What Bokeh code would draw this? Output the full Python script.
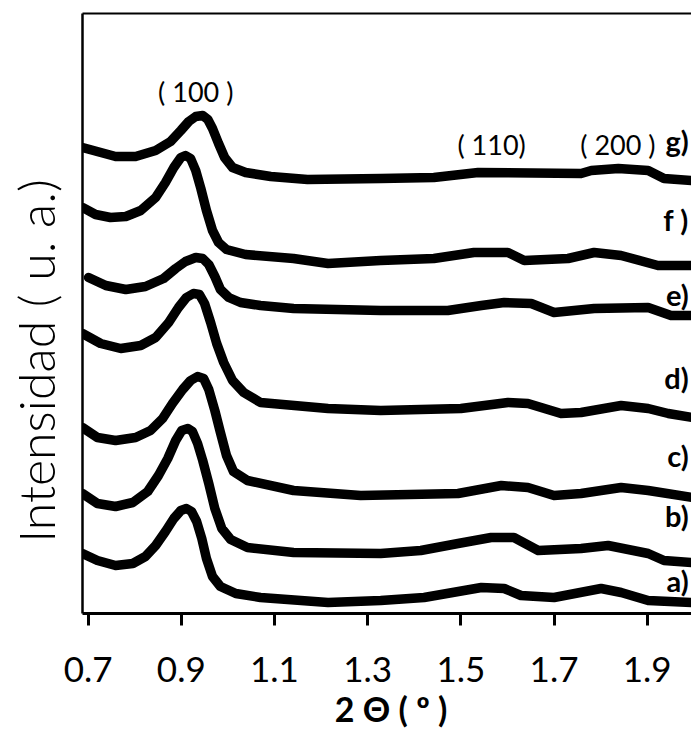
from bokeh.plotting import figure
from bokeh.models import LinearAxis, FixedTicker, Label
from bokeh.embed import file_html
from bokeh.resources import INLINE

# ---- data (intensity in arbitrary units) ----
x_ticks = [0.7, 0.9, 1.1, 1.3, 1.5, 1.7, 1.9]

g_x = [0.688, 0.759, 0.802, 0.845, 0.877, 0.899, 0.916, 0.931, 0.946, 0.957, 0.967, 0.980, 0.993, 1.010, 1.038, 1.092, 1.171, 1.328, 1.442, 1.537, 1.758, 1.780, 1.838, 1.902, 1.936, 1.997]
g_y = [466, 457, 457, 463, 472, 483, 492, 497, 498, 494, 485, 470, 456, 446, 441, 437, 434, 435, 436, 441, 440, 443, 445, 443, 435, 433]

f_x = [0.688, 0.716, 0.748, 0.781, 0.813, 0.845, 0.866, 0.884, 0.899, 0.909, 0.920, 0.931, 0.942, 0.954, 0.967, 0.980, 0.997, 1.038, 1.141, 1.215, 1.328, 1.442, 1.528, 1.601, 1.636, 1.730, 1.786, 1.844, 1.923, 1.997]
f_y = [406, 399, 396, 397, 403, 416, 431, 446, 456, 458, 455, 443, 425, 403, 383, 371, 364, 359, 355, 350, 353, 355, 361, 361, 353, 355, 361, 358, 348, 348]

e_x = [0.701, 0.738, 0.781, 0.823, 0.862, 0.888, 0.909, 0.931, 0.946, 0.959, 0.972, 0.984, 1.002, 1.027, 1.070, 1.141, 1.328, 1.472, 1.544, 1.593, 1.651, 1.700, 1.786, 1.902, 1.951, 1.997]
e_y = [336, 328, 324, 327, 335, 345, 352, 356, 355, 349, 337, 324, 316, 311, 308, 305, 303, 303, 308, 311, 310, 301, 305, 306, 298, 298]

d_x = [0.688, 0.727, 0.770, 0.813, 0.845, 0.873, 0.894, 0.911, 0.926, 0.939, 0.950, 0.963, 0.976, 0.991, 1.010, 1.034, 1.070, 1.215, 1.328, 1.500, 1.601, 1.644, 1.715, 1.758, 1.844, 1.902, 1.945, 1.997]
d_y = [280, 270, 265, 268, 276, 291, 306, 316, 320, 319, 310, 291, 270, 251, 233, 221, 211, 205, 203, 205, 211, 210, 200, 201, 208, 205, 200, 196]

c_x = [0.688, 0.720, 0.759, 0.802, 0.834, 0.860, 0.881, 0.903, 0.920, 0.935, 0.948, 0.959, 0.972, 0.984, 0.997, 1.012, 1.042, 1.141, 1.285, 1.494, 1.587, 1.644, 1.700, 1.758, 1.844, 1.902, 1.997]
c_y = [186, 176, 173, 176, 183, 195, 210, 224, 233, 237, 235, 224, 203, 181, 158, 142, 133, 123, 118, 120, 128, 126, 118, 120, 126, 123, 116]

b_x = [0.688, 0.720, 0.759, 0.796, 0.828, 0.851, 0.871, 0.888, 0.901, 0.914, 0.924, 0.935, 0.946, 0.959, 0.972, 0.987, 1.006, 1.042, 1.141, 1.328, 1.414, 1.494, 1.565, 1.614, 1.666, 1.758, 1.816, 1.902, 1.936, 1.997]
b_y = [120, 110, 107, 111, 122, 138, 155, 173, 183, 185, 182, 170, 153, 130, 105, 85, 74, 66, 61, 60, 63, 70, 76, 76, 63, 65, 68, 60, 53, 51]

a_x = [0.688, 0.720, 0.759, 0.796, 0.823, 0.845, 0.866, 0.884, 0.899, 0.911, 0.922, 0.933, 0.944, 0.954, 0.967, 0.984, 1.017, 1.070, 1.215, 1.328, 1.421, 1.544, 1.593, 1.629, 1.700, 1.801, 1.844, 1.902, 1.997]
a_y = [60, 53, 48, 50, 57, 68, 82, 95, 103, 105, 102, 92, 75, 55, 37, 27, 20, 16, 11, 13, 16, 26, 25, 18, 16, 25, 21, 13, 11]

series_x = [a_x, b_x, c_x, d_x, e_x, f_x, g_x]
series_y = [a_y, b_y, c_y, d_y, e_y, f_y, g_y]

series_names = ["a)", "b)", "c)", "d)", "e)", "f )", "g)"]
series_label_y = [33, 98, 158, 236, 319, 394, 473]

peak_names = ["( 100 )", "( 110)", "( 200 )"]
peak_x = [0.931, 1.566, 1.837]
peak_y = [522, 469, 469]

NBSP = "\u00a0"
x_label = NBSP + "2 \u0398 ( \u00ba )"
y_label = "Intensidad ( u. a.)" + NBSP * 7

X_MIN, X_MAX = 0.688, 1.995
Y_MIN, Y_MAX = 0, 600

p = figure(width=691, height=734, x_range=(X_MIN, X_MAX), y_range=(Y_MIN, Y_MAX),
           output_backend="svg", toolbar_location=None,
           x_axis_location=None, y_axis_location=None,
           min_border_left=82, min_border_right=0, min_border_top=13, min_border_bottom=121)
p.outline_line_color = None
p.grid.visible = False
p.background_fill_color = "white"
p.border_fill_color = "white"

# bottom axis
xa = LinearAxis(ticker=FixedTicker(ticks=x_ticks))
xa.axis_line_width = 3
xa.axis_line_color = "black"
xa.major_tick_line_width = 3
xa.major_tick_line_color = "black"
xa.major_tick_in = 0
xa.major_tick_out = 12
xa.minor_tick_line_color = None
xa.major_label_text_font = "Lato"
xa.major_label_text_font_size = "35px"
xa.major_label_text_color = "black"
xa.major_label_standoff = 31
xa.axis_label = x_label
xa.axis_label_text_font = "Lato"
xa.axis_label_text_font_style = "bold"
xa.axis_label_text_font_size = "34px"
xa.axis_label_text_color = "black"
xa.axis_label_standoff = 3
p.add_layout(xa, "below")

# left axis (line + title only)
ya = LinearAxis(ticker=FixedTicker(ticks=[]))
ya.axis_line_width = 2.5
ya.axis_line_color = "black"
ya.major_tick_line_color = None
ya.minor_tick_line_color = None
ya.major_tick_in = 0
ya.major_tick_out = 0
ya.major_label_standoff = 0
ya.major_label_text_font_size = "0px"
ya.axis_label = y_label
ya.axis_label_text_font = "Lato Light"
ya.axis_label_text_font_style = "normal"
ya.axis_label_text_font_size = "50px"
ya.axis_label_text_color = "black"
ya.axis_label_standoff = 17
p.add_layout(ya, "left")

# top border (line only)
ta = LinearAxis(ticker=FixedTicker(ticks=[]))
ta.axis_line_width = 2
ta.axis_line_color = "black"
ta.major_tick_line_color = None
ta.minor_tick_line_color = None
ta.major_tick_in = 0
ta.major_tick_out = 0
ta.major_label_standoff = 0
ta.major_label_text_font_size = "0px"
p.add_layout(ta, "above")

for xs, ys in zip(series_x, series_y):
    p.line(xs, ys, line_color="black", line_width=9.5, line_join="round", line_cap="round")

for name, yy in zip(series_names, series_label_y):
    p.add_layout(Label(x=X_MAX - 0.006, y=yy, text=name, text_align="right", text_baseline="middle",
                       text_font="Lato", text_font_style="bold", text_font_size="29px", text_color="black"))

for name, xx, yy in zip(peak_names, peak_x, peak_y):
    p.add_layout(Label(x=xx, y=yy, text=name, text_align="center", text_baseline="middle",
                       text_font="Lato", text_font_size="27px", text_color="black"))

open("out.html", "w").write(file_html(p, INLINE))
